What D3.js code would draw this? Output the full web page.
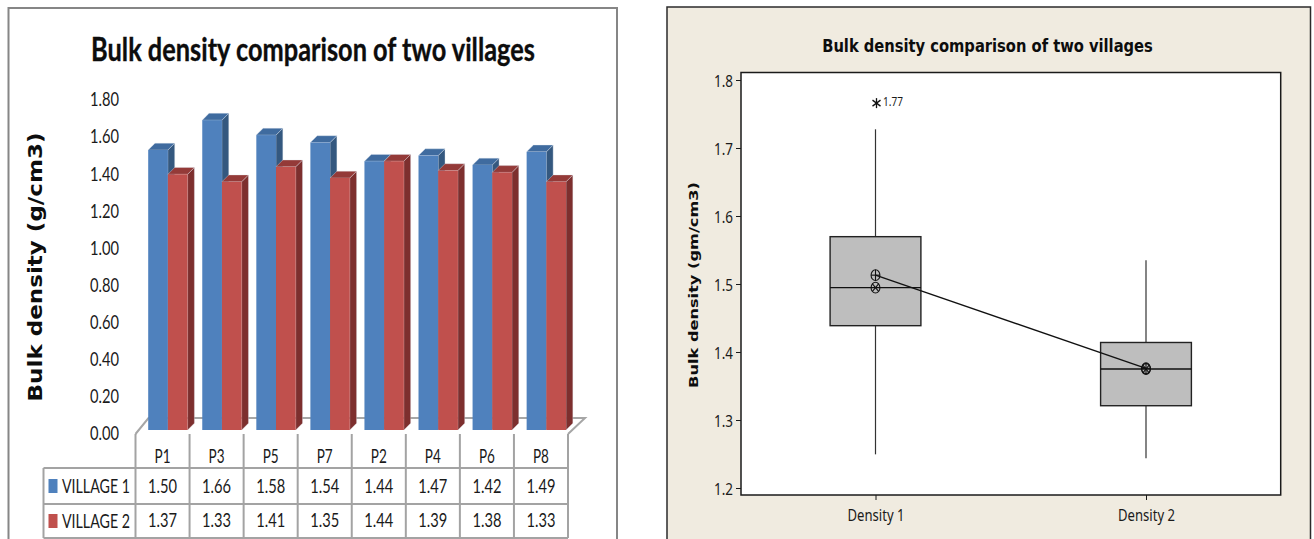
<!DOCTYPE html>
<html><head><meta charset="utf-8">
<script src="https://cdn.jsdelivr.net/npm/d3@7"></script>
<style>html,body{margin:0;padding:0;background:#fff;overflow:hidden}svg{display:block}</style>
</head><body><svg id="c" width="1314" height="539"></svg>
<script>
const categories = ["P1","P3","P5","P7","P2","P4","P6","P8"];
const village1 = [1.50,1.66,1.58,1.54,1.44,1.47,1.42,1.49];
const village2 = [1.37,1.33,1.41,1.35,1.44,1.39,1.38,1.33];
const seriesNames = ["VILLAGE 1","VILLAGE 2"];
const barTicks = [0,0.2,0.4,0.6,0.8,1.0,1.2,1.4,1.6,1.8];
const chartTitle = "Bulk density comparison of two villages";
const leftYLabel = "Bulk density (g/cm3)";
const rightYLabel = "Bulk density (gm/cm3)";
const boxNames = ["Density 1","Density 2"];
const whiskerLow = [1.2495,1.2437];
const q1 = [1.4387,1.321];
const median = [1.4946,1.375];
const q3 = [1.5696,1.414];
const whiskerHigh = [1.7275,1.535];
const means = [1.513,1.376];
const outliers = [1.766];
const outlierLabel = "1.77";
const boxTicks = [1.2,1.3,1.4,1.5,1.6,1.7,1.8];

const svg = d3.select("#c");
function fit(g,str,x,y,size,len,o={}){
  const t=g.append("text").text(str)
    .attr("font-family",o.family||"Lato").attr("font-size",size)
    .attr("font-weight",o.weight||400).attr("fill",o.fill||"#1a1a1a")
    .attr("text-anchor",o.anchor||"middle").attr("dominant-baseline","central");
  const k=len/t.node().getComputedTextLength();
  t.attr("transform",`translate(${x},${y})${o.rotate?" rotate(-90)":""} scale(${k},1)`);
  return t;
}

/* ---------- left panel ---------- */
const L=svg.append("g");
L.append("rect").attr("x",8.5).attr("y",8).attr("width",608.5).attr("height",560)
 .attr("fill","#fff").attr("stroke","#868686").attr("stroke-width",2);
fit(L,chartTitle,313,48.5,32,444,{weight:700,fill:"#0d0d0d"}).attr("stroke","#0d0d0d").attr("stroke-width",.35);
fit(L,leftYLabel,35.5,267,19,269,{family:"DejaVu Sans",weight:700,rotate:true,fill:"#0d0d0d"});

const xBand=d3.scaleBand().domain(categories).range([135.5,568]);
const yBar=d3.scaleLinear().domain([0,1.8]).range([430,94]);
const yLab=d3.scaleLinear().domain([0,1.8]).range([434,100]);
const depth=6.8, barW=19.7, inset=12.7;

// axis labels
const ax=L.append("g").attr("transform","translate(119,0)")
  .call(d3.axisLeft(yLab).tickValues(barTicks).tickFormat(d3.format(".2f")).tickSize(0));
ax.select(".domain").remove();
ax.selectAll("text").remove();
ax.selectAll(".tick").each(function(d){
  fit(d3.select(this),d3.format(".2f")(d),0,-1.5,19.5,29,{anchor:"end"});
});

// floor
const fx0=xBand.range()[0], fx1=xBand.range()[1];
const fy0=yLab(0), fy1=fy0-16;
L.append("path").attr("d",`M${fx0},${fy0}L${fx0+13},${fy1}L${fx1+17},${fy1}L${fx1},${fy0}`)
 .attr("fill","#fff").attr("stroke","#a6a6a6").attr("stroke-width",2);

// bars
const barSets=[{v:village1,off:0,f:"#4f81bd",s:"#34587f",t:"#3f6b9f"},
               {v:village2,off:barW,f:"#c0504d",s:"#7d2f2e",t:"#943a38"}];
categories.forEach((c,i)=>{
  barSets.forEach(b=>{
    const x=xBand(c)+inset+b.off, w=barW, y=yBar(b.v[i]), y0=yBar(0);
    const g=L.append("g").attr("stroke","#dfe6ef").attr("stroke-opacity",.5).attr("stroke-width",.7);
    g.append("polygon").attr("fill",b.s)
      .attr("points",[[x+w,y],[x+w+depth,y-depth],[x+w+depth,y0-depth],[x+w,y0]].join(" "));
    g.append("polygon").attr("fill",b.t)
      .attr("points",[[x,y],[x+depth,y-depth],[x+w+depth,y-depth],[x+w,y]].join(" "));
    g.append("rect").attr("x",x).attr("y",y).attr("width",w).attr("height",y0-y).attr("fill",b.f).attr("stroke","none");
  });
});

// data table
const rowYs=[434,468,504,538];
const tbl=L.append("g").attr("stroke","#a3a3a3").attr("stroke-width",2).attr("fill","none");
const colXs=categories.map(c=>xBand(c)).concat([fx1]);
colXs.forEach(x=>tbl.append("line").attr("x1",x).attr("x2",x).attr("y1",rowYs[0]).attr("y2",rowYs[3]));
tbl.append("line").attr("x1",43.5).attr("x2",43.5).attr("y1",rowYs[1]).attr("y2",rowYs[3]);
tbl.append("line").attr("x1",43.5).attr("x2",fx1).attr("y1",rowYs[1]).attr("y2",rowYs[1]);
tbl.append("line").attr("x1",43.5).attr("x2",fx1).attr("y1",rowYs[2]).attr("y2",rowYs[2]);
tbl.append("line").attr("x1",43.5).attr("x2",fx1).attr("y1",rowYs[3]).attr("y2",rowYs[3]);
categories.forEach((c,i)=>{
  const cx=xBand(c)+xBand.bandwidth()/2;
  fit(L,c,cx,455.5,19.5,16);
  fit(L,d3.format(".2f")(village1[i]),cx,486,19.5,29);
  fit(L,d3.format(".2f")(village2[i]),cx,520,19.5,29);
});
seriesNames.forEach((n,i)=>{
  const cy=[486,521][i];
  L.append("rect").attr("x",48.5).attr("y",cy-7).attr("width",9).attr("height",14)
    .attr("fill",barSets[i].f);
  fit(L,n,62,cy-.5,19.5,68,{anchor:"start"});
});

/* ---------- right panel ---------- */
const R=svg.append("g");
R.append("rect").attr("x",667).attr("y",7).attr("width",643.5).attr("height",560)
 .attr("fill","#f0ebe0").attr("stroke","#2b2b2b").attr("stroke-width",1.5);
R.append("rect").attr("x",741).attr("y",72.5).attr("width",539.7).attr("height",422.5)
 .attr("fill","#fff").attr("stroke","#1a1a1a").attr("stroke-width",1.5);
fit(R,chartTitle,987.5,45.5,18,331,{family:"DejaVu Sans",weight:700,fill:"#0d0d0d"});
fit(R,rightYLabel,693.5,285,13,206,{family:"DejaVu Sans",weight:700,rotate:true,fill:"#0d0d0d"});

const yBox=d3.scaleLinear().domain([1.2,1.8]).range([488,80]);
const xBox=d3.scalePoint().domain(boxNames).range([875.5,1146]);
const yA=R.append("g").attr("transform","translate(741,0)")
  .call(d3.axisLeft(yBox).tickValues(boxTicks).tickFormat(d3.format(".1f")).tickSize(5));
yA.select(".domain").remove();
yA.selectAll("line").attr("stroke","#1a1a1a");
yA.selectAll("text").remove();
yA.selectAll(".tick").each(function(d){
  fit(d3.select(this),d3.format(".1f")(d),-8,0,17,19,{family:"Noto Sans",anchor:"end"});
});
const xA=R.append("g").attr("transform","translate(0,495)")
  .call(d3.axisBottom(xBox).tickSize(5));
xA.select(".domain").remove();
xA.selectAll("line").attr("stroke","#1a1a1a");
xA.selectAll("text").remove();
xA.selectAll(".tick").each(function(d){
  fit(d3.select(this),d,0,19,16.5,57,{family:"Noto Sans"});
});

const boxHalf=45.4;
boxNames.forEach((n,i)=>{
  const cx=xBox(n);
  const g=R.append("g").attr("stroke","#222");
  g.append("line").attr("x1",cx).attr("x2",cx).attr("y1",yBox(whiskerHigh[i])).attr("y2",yBox(q3[i])).attr("stroke-width",1.2).attr("stroke","#333");
  g.append("line").attr("x1",cx).attr("x2",cx).attr("y1",yBox(q1[i])).attr("y2",yBox(whiskerLow[i])).attr("stroke-width",1.2).attr("stroke","#333");
  g.append("rect").attr("x",cx-boxHalf).attr("y",yBox(q3[i])).attr("width",boxHalf*2)
    .attr("height",yBox(q1[i])-yBox(q3[i])).attr("fill","#bebebe").attr("stroke-width",1.4);
  g.append("line").attr("x1",cx-boxHalf).attr("x2",cx+boxHalf).attr("y1",yBox(median[i])).attr("y2",yBox(median[i])).attr("stroke","#111").attr("stroke-width",1.3);
});
// mean connect line
R.append("path").attr("fill","none").attr("stroke","#111").attr("stroke-width",1.3)
 .attr("d",d3.line().x((d,i)=>xBox(boxNames[i])).y(d=>yBox(d))(means));
// mean (circle+cross) and median (circle+x) symbols
function sym(cx,cy,diag){
  const g=R.append("g").attr("stroke","#111").attr("stroke-width",1.1).attr("fill","none");
  g.append("ellipse").attr("cx",cx).attr("cy",cy).attr("rx",4.4).attr("ry",5.4);
  if(diag){
    g.append("line").attr("x1",cx-3.1).attr("x2",cx+3.1).attr("y1",cy-3.8).attr("y2",cy+3.8);
    g.append("line").attr("x1",cx-3.1).attr("x2",cx+3.1).attr("y1",cy+3.8).attr("y2",cy-3.8);
  } else {
    g.append("line").attr("x1",cx-4.4).attr("x2",cx+4.4).attr("y1",cy).attr("y2",cy);
    g.append("line").attr("x1",cx).attr("x2",cx).attr("y1",cy-5.4).attr("y2",cy+5.4);
  }
}
boxNames.forEach((n,i)=>{
  sym(xBox(n),yBox(median[i]),true);
  sym(xBox(n),yBox(means[i]),false);
});
// outlier
outliers.forEach(v=>{
  const cx=xBox(boxNames[0])+1, cy=yBox(v);
  const g=R.append("g").attr("stroke","#111").attr("stroke-width",1.3);
  g.append("line").attr("x1",cx).attr("x2",cx).attr("y1",cy-5).attr("y2",cy+5);
  g.append("line").attr("x1",cx-4).attr("x2",cx+4).attr("y1",cy-3).attr("y2",cy+3);
  g.append("line").attr("x1",cx-4).attr("x2",cx+4).attr("y1",cy+3).attr("y2",cy-3);
  fit(R,outlierLabel,883,cy-2,13,20,{family:"Noto Sans",anchor:"start"});
});
</script></body></html>
